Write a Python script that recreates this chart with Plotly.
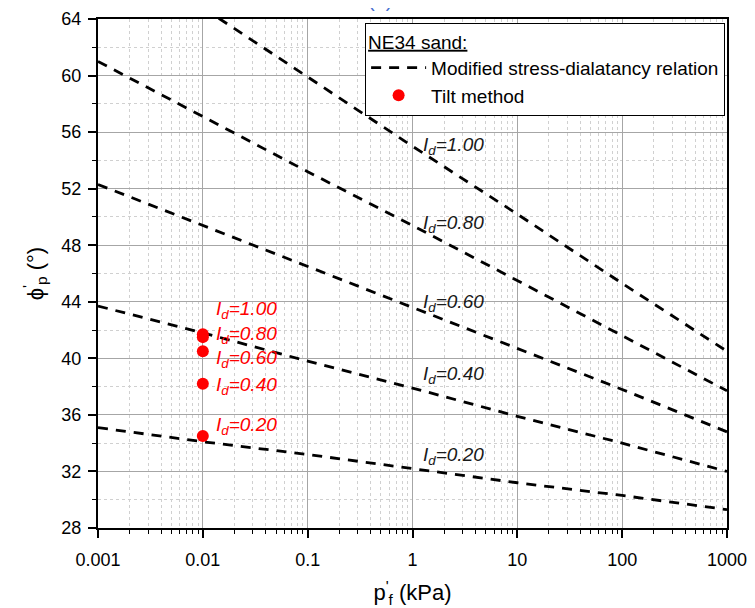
import plotly.graph_objects as go

# ---- data ----
p_f = [0.001, 0.01, 0.1, 1, 10, 100, 1000]          # kPa
phi_id020 = [35.1, 34.1, 33.2, 32.2, 31.2, 30.3, 29.3]
phi_id040 = [43.7, 41.8, 39.8, 37.9, 35.9, 34.0, 32.0]
phi_id060 = [52.3, 49.4, 46.5, 43.6, 40.7, 37.8, 34.8]
phi_id080 = [61.0, 57.1, 53.2, 49.4, 45.5, 41.6, 37.7]
phi_id100 = [69.6, 64.8, 59.9, 55.0, 50.2, 45.3, 40.5]
line_labels = ["1.00", "0.80", "0.60", "0.40", "0.20"]
line_label_y = [55.0, 49.5, 43.9, 38.8, 33.1]

tilt_p = [0.01, 0.01, 0.01, 0.01, 0.01]
tilt_phi = [41.7, 41.5, 40.5, 38.2, 34.5]
tilt_labels = ["1.00", "0.80", "0.60", "0.40", "0.20"]
tilt_label_y = [43.45, 41.65, 39.95, 38.05, 35.2]

x_tickvals = [0.001, 0.01, 0.1, 1, 10, 100, 1000]
x_ticktext = ["0.001", "0.01", "0.1", "1", "10", "100", "1000"]

FONT = "Liberation Sans, Arial, sans-serif"

fig = go.Figure()
series = [phi_id100, phi_id080, phi_id060, phi_id040, phi_id020]
for i, s in enumerate(series):
    fig.add_trace(go.Scatter(
        x=p_f, y=s, mode="lines",
        line=dict(color="black", width=2.8, dash="10px,8px"),
        name="Modified stress-dialatancy relation",
        showlegend=(i == 0), hoverinfo="skip"))

fig.add_trace(go.Scatter(
    x=tilt_p, y=tilt_phi, mode="markers",
    marker=dict(color="#ff0000", size=12),
    name="Tilt method"))

annotations = []
for lab, yv in zip(line_labels, line_label_y):
    annotations.append(dict(
        x=0.08, y=yv, xref="x", yref="y", xanchor="left", yanchor="middle",
        text="<i>I<sub>d</sub>=" + lab + "</i>", showarrow=False,
        font=dict(family=FONT, size=19, color="#1a1a1a")))
for lab, yv in zip(tilt_labels, tilt_label_y):
    annotations.append(dict(
        x=-1.89, y=yv, xref="x", yref="y", xanchor="left", yanchor="middle",
        text="<i>I<sub>d</sub>=" + lab + "</i>", showarrow=False,
        font=dict(family=FONT, size=19, color="#ff0000")))

# the page body has an 8px margin, so the figure is shifted by 8px; compensate
fig.update_layout(
    width=747, height=600,
    margin=dict(l=90, r=28, t=11, b=80),
    paper_bgcolor="white", plot_bgcolor="white",
    font=dict(family=FONT, size=18, color="black"),
    showlegend=True,
    legend=dict(
        x=0.997, y=0.992, xanchor="right", yanchor="top",
        bgcolor="white", bordercolor="black", borderwidth=1,
        font=dict(family=FONT, size=19, color="black"),
        title=dict(text="<u>NE34 sand:</u>", font=dict(family=FONT, size=19, color="black")),
        tracegroupgap=0, itemwidth=55),
    annotations=annotations,
)

fig.update_xaxes(
    type="log", range=[-3, 3], automargin=False,
    tickvals=x_tickvals, ticktext=x_ticktext,
    ticks="outside", ticklen=8, tickwidth=1.5, tickcolor="black",
    ticklabelstandoff=6, ticklabeloverflow="allow",
    showline=True, linecolor="black", linewidth=2, mirror=True,
    showgrid=True, gridcolor="#a6a6a6", gridwidth=1,
    zeroline=False,
    tickfont=dict(family=FONT, size=18, color="black"),
    title=dict(text="p<sup>'</sup><sub>f</sub> (kPa)", font=dict(family=FONT, size=22, color="black"), standoff=19),
    minor=dict(dtick="D1", ticks="outside", ticklen=4, tickwidth=1.2, tickcolor="black",
               showgrid=True, gridcolor="#d0d0d0", griddash="dot", gridwidth=1),
)
fig.update_yaxes(
    range=[28, 64], dtick=4, tick0=28, automargin=False,
    ticks="outside", ticklen=8, tickwidth=1.5, tickcolor="black",
    ticklabelstandoff=3, ticklabeloverflow="allow",
    showline=True, linecolor="black", linewidth=2, mirror=True,
    showgrid=True, gridcolor="#a6a6a6", gridwidth=1,
    zeroline=False,
    tickfont=dict(family=FONT, size=18, color="black"),
    title=dict(text="ϕ<sup>'</sup><sub>p</sub> (°)", font=dict(family=FONT, size=22, color="black"), standoff=12),
    minor=dict(dtick=2, ticks="outside", ticklen=4, tickwidth=1.2, tickcolor="black",
               showgrid=True, gridcolor="#d0d0d0", griddash="dot", gridwidth=1),
)

# panel label, placed so only its lower part shows at the top edge
fig.add_annotation(x=0.448, y=1.0, xref="paper", yref="paper", yshift=19,
                   xanchor="center", yanchor="middle", showarrow=False,
                   text="(a)", font=dict(family=FONT, size=20, color="#4a6fd0"))

fig.write_html("out.html")
